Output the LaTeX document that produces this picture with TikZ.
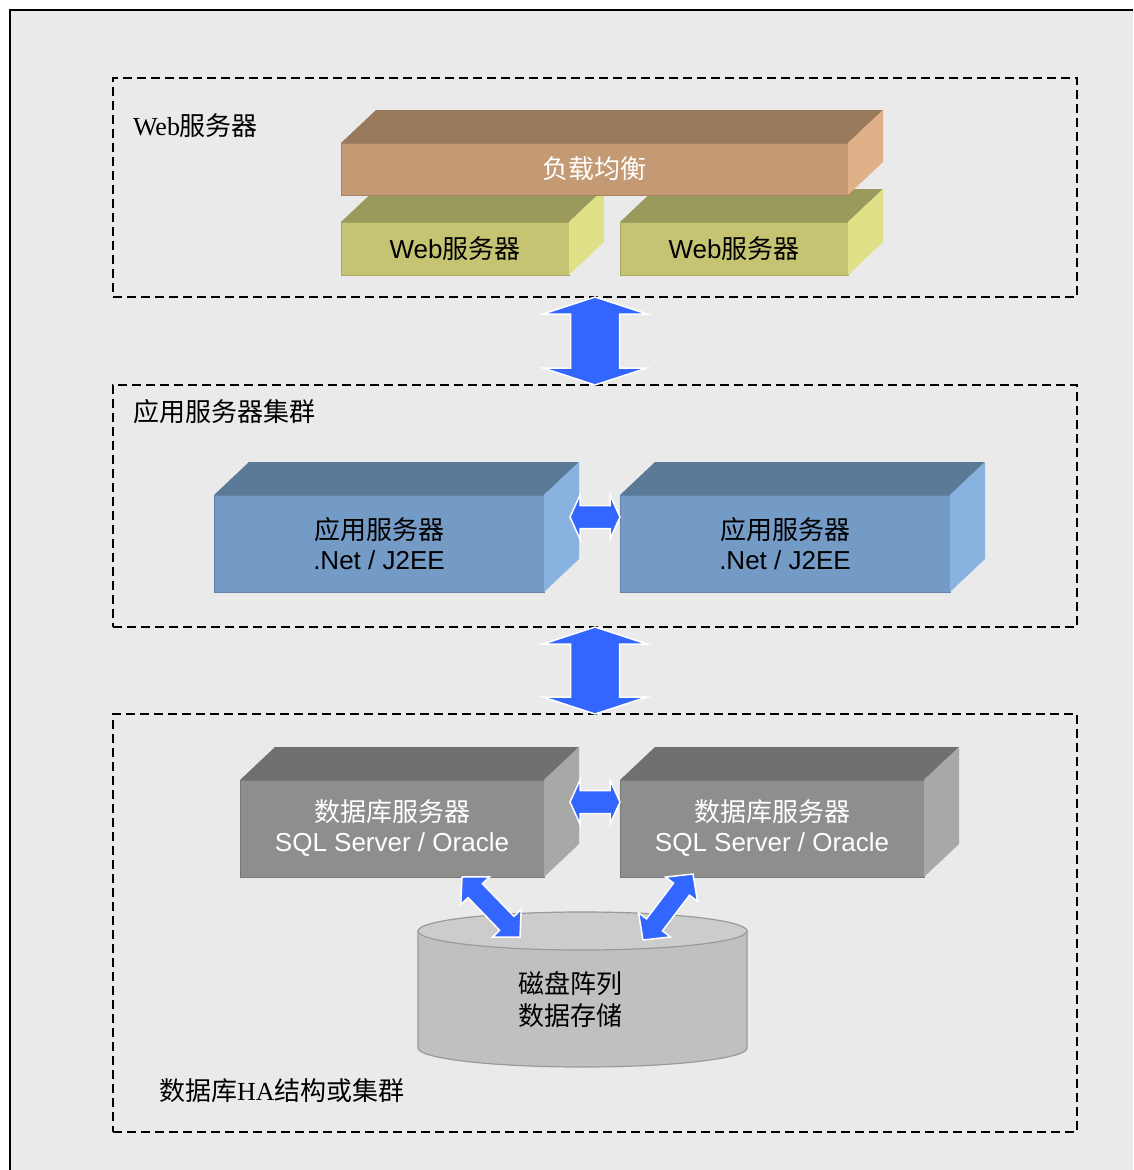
\documentclass[tikz,border=0pt]{standalone}
\usepackage{fontspec}
\setmainfont{Liberation Serif}
\setsansfont{Liberation Sans}
\newfontfamily\cjk{Noto Sans CJK SC}
\usepackage{tikz}
\usetikzlibrary{calc}
\usetikzlibrary{positioning}

\definecolor{bggray}{HTML}{EAEAEA}
\definecolor{lbfront}{HTML}{C49A74}
\definecolor{lbtop}{HTML}{9A7A5C}
\definecolor{lbside}{HTML}{E0B088}
\definecolor{webfront}{HTML}{C4C472}
\definecolor{webtop}{HTML}{9A9A5C}
\definecolor{webside}{HTML}{E0E088}
\definecolor{appfront}{HTML}{749AC6}
\definecolor{apptop}{HTML}{5A7A98}
\definecolor{appside}{HTML}{88B2E0}
\definecolor{dbfront}{HTML}{8E8E8E}
\definecolor{dbtop}{HTML}{707070}
\definecolor{dbside}{HTML}{A8A8A8}
\definecolor{diskbody}{HTML}{C0C0C0}
\definecolor{disktop}{HTML}{CCCCCC}
\definecolor{diskedge}{HTML}{9A9A9A}
\definecolor{arrowblue}{HTML}{3366FF}

\newcommand{\zh}[1]{{\cjk #1}}
% top and right faces of a box node
\newcommand{\cubefaces}[3]{\fill[#2] (#1.north west) -- ++(35,-33) -- ($(#1.north east)+(35,-33)$) -- (#1.north east) -- cycle; \fill[#3] (#1.north east) -- ++(35,-33) -- ($(#1.south east)+(35,-33)$) -- (#1.south east) -- cycle;}
% block arrow: ends, half shaft, half head, head length
\newcommand{\blockarrow}[5]{\coordinate (hA) at ($(#1)!#5!(#2)$); \coordinate (hB) at ($(#2)!#5!(#1)$);
  \filldraw[fill=arrowblue, draw=white, line width=1.5pt] (#1) -- ($(hA)!#4!90:(#2)$) -- ($(hA)!#3!90:(#2)$) -- ($(hB)!#3!-90:(#1)$) -- ($(hB)!#4!-90:(#1)$) -- (#2) -- ($(hB)!#4!90:(#1)$) -- ($(hB)!#3!90:(#1)$) -- ($(hA)!#3!-90:(#2)$) -- ($(hA)!#4!-90:(#2)$) -- cycle;}

\begin{document}
\begin{tikzpicture}[x=1pt, y=-1pt,
    every node/.style={inner sep=0pt, outer sep=0pt},
    groupbox/.style={draw, line width=1.6pt, dash pattern=on 9pt off 5pt, minimum width=964pt},
    grouplabel/.style={anchor=west, font=\fontsize{26}{30}\selectfont},
    facebox/.style={align=center, font=\fontsize{26}{30}\selectfont\sffamily, line width=0.6pt},
    lbbox/.style={facebox, fill=lbfront, draw=lbfront!85!black, text=white, minimum width=507pt, minimum height=52pt},
    webbox/.style={facebox, fill=webfront, draw=webfront!85!black, minimum width=228pt, minimum height=53pt},
    appbox/.style={facebox, fill=appfront, draw=appfront!85!black, minimum width=330pt, minimum height=97pt},
    dbbox/.style={facebox, fill=dbfront, draw=dbfront!85!black, text=white, minimum width=304pt, minimum height=97pt}]

    \useasboundingbox (0,0) rectangle (1133,1170);
    \fill[bggray] (10,10) rectangle (1133,1170);
    \draw[line width=2pt] (10,1170) -- (10,10) -- (1133,10);

    % groups
    \node[groupbox, minimum height=219pt] (webgroup) at (595,187.5) {};
    \node[groupbox, minimum height=242pt] (appgroup) at (595,506) {};
    \node[groupbox, minimum height=418pt] (dbgroup) at (595,923) {};
    \node[grouplabel] (weblabel) at (133,126) {Web\zh{服务器}};
    \node[grouplabel] (applabel) at (133,412) {\zh{应用服务器集群}};
    \node[grouplabel] (dblabel) at (159,1091) {\zh{数据库}HA\zh{结构或集群}};

    % web tier
    \node[webbox] (web1) at (455,248.5) {Web\zh{服务器}};
    \node[webbox, right=51pt of web1] (web2) {Web\zh{服务器}};
    \cubefaces{web1}{webtop}{webside}
    \cubefaces{web2}{webtop}{webside}
    \node[lbbox] (lb) at (594.5,169) {\zh{负载均衡}};
    \cubefaces{lb}{lbtop}{lbside}

    % application tier
    \node[appbox] (app1) at (379,543.5) {\zh{应用服务器}\\.Net / J2EE};
    \node[appbox, right=76pt of app1] (app2) {\zh{应用服务器}\\.Net / J2EE};
    \cubefaces{app1}{apptop}{appside}
    \cubefaces{app2}{apptop}{appside}

    % database tier
    \node[dbbox] (db1) at (392,828.5) {\zh{数据库服务器}\\SQL Server / Oracle};
    \node[dbbox, right=76pt of db1] (db2) {\zh{数据库服务器}\\SQL Server / Oracle};
    \cubefaces{db1}{dbtop}{dbside}
    \cubefaces{db2}{dbtop}{dbside}

    % disk array
    \filldraw[fill=diskbody, draw=diskedge, line width=1.2pt] (418,931) -- (418,1048) arc[start angle=180, end angle=0, x radius=164.5, y radius=19] -- (747,931) -- cycle;
    \filldraw[fill=disktop, draw=diskedge, line width=1.2pt] (582.5,931) ellipse[x radius=164.5, y radius=19];
    \node[align=center, font=\fontsize{26}{32}\selectfont] (disk) at (570,1000) {\zh{磁盘阵列}\\\zh{数据存储}};

    % connectors
    \blockarrow{webgroup.south}{appgroup.north}{24.5pt}{52pt}{17pt}
    \blockarrow{appgroup.south}{dbgroup.north}{24.5pt}{52pt}{17pt}
    \coordinate (a1) at ($(app1.east)+(26,-26.5)$);
    \coordinate (a2) at ($(app2.west)+(0,-26.5)$);
    \blockarrow{a1}{a2}{11.5pt}{22pt}{10pt}
    \coordinate (d1) at ($(db1.east)+(26,-26.5)$);
    \coordinate (d2) at ($(db2.west)+(0,-26.5)$);
    \blockarrow{d1}{d2}{11.5pt}{22pt}{10pt}
    \coordinate (s1) at ($(db1.south)+(70,0)$);
    \coordinate (k1) at (520,937);
    \blockarrow{s1}{k1}{10pt}{20pt}{19pt}
    \coordinate (s2) at (693,874);
    \coordinate (k2) at (643,940);
    \blockarrow{s2}{k2}{10pt}{20pt}{19pt}
\end{tikzpicture}
\end{document}
